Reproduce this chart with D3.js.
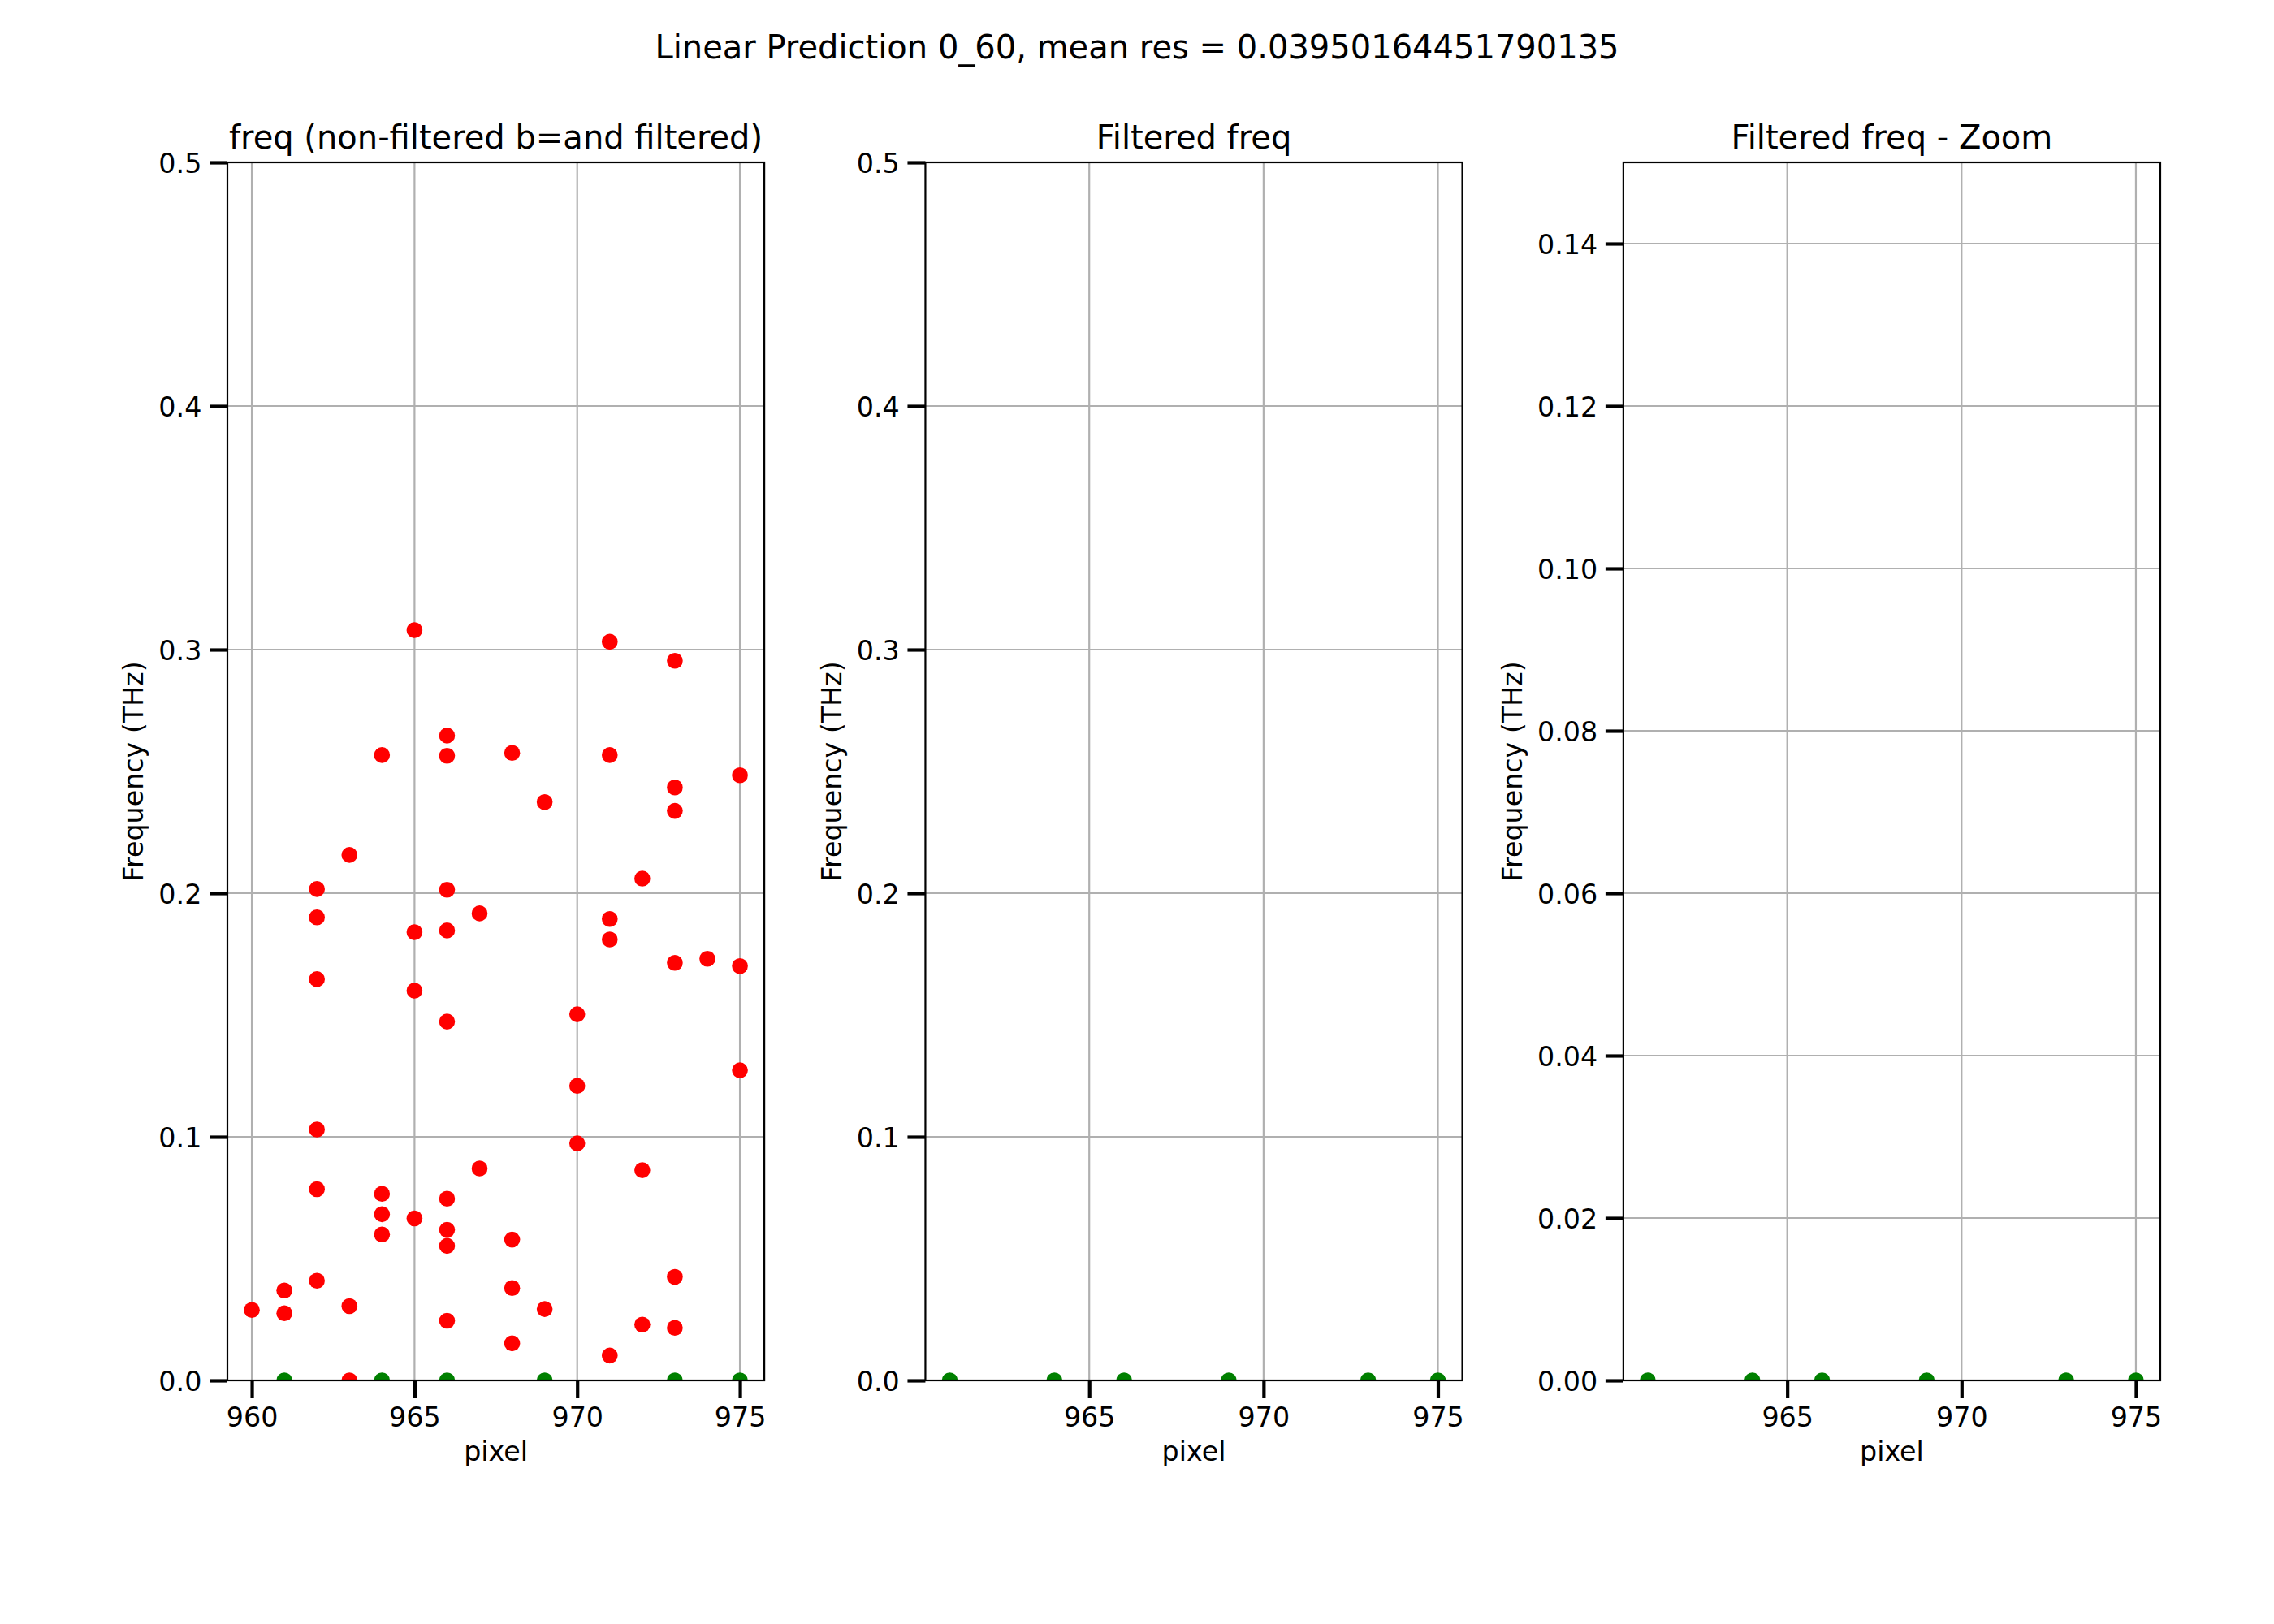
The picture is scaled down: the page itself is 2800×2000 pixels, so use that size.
<!DOCTYPE html>
<html>
<head>
<meta charset="utf-8">
<script src="https://cdn.jsdelivr.net/npm/d3@7"></script>
<style>
  html, body { margin: 0; padding: 0; background: #ffffff; }
  svg { display: block; font-family: "DejaVu Sans", sans-serif; }
</style>
</head>
<body>
<script>
// ---------------- data ----------------
const suptitle = "Linear Prediction 0_60, mean res = 0.03950164451790135";
const panelTitles = ["freq (non-filtered b=and filtered)", "Filtered freq", "Filtered freq - Zoom"];
const xLabel = "pixel";
const yLabel = "Frequency (THz)";

// non-filtered (red) points
const redPixels = [
  960,
  961, 961,
  962, 962, 962, 962, 962, 962,
  963, 963, 963,
  964, 964, 964, 964,
  965, 965, 965, 965,
  966, 966, 966, 966, 966, 966, 966, 966, 966,
  967, 967,
  968, 968, 968, 968,
  969, 969,
  970, 970, 970,
  971, 971, 971, 971, 971,
  972, 972, 972,
  973, 973, 973, 973, 973, 973,
  974,
  975, 975, 975
];
const redFreqs = [
  0.0289,
  0.0369, 0.0276,
  0.2017, 0.1901, 0.1647, 0.1030, 0.0785, 0.0409,
  0.2157, 0.0305, 0.0,
  0.2567, 0.0766, 0.0682, 0.0599,
  0.3080, 0.1840, 0.1600, 0.0665,
  0.2647, 0.2564, 0.2014, 0.1847, 0.1473, 0.0746, 0.0618, 0.0552, 0.0245,
  0.1917, 0.0870,
  0.2576, 0.0578, 0.0379, 0.0152,
  0.2374, 0.0293,
  0.1503, 0.1209, 0.0973,
  0.3032, 0.2567, 0.1894, 0.1810, 0.0102,
  0.2060, 0.0863, 0.0229,
  0.2954, 0.2434, 0.2338, 0.1714, 0.0425, 0.0216,
  0.1731,
  0.2484, 0.1701, 0.1273
];

// filtered (green) points
const greenPixels = [961, 964, 966, 969, 973, 975];
const greenFreqs  = [0.0, 0.0, 0.0, 0.0, 0.0, 0.0];

// axis ticks
const xTicks1 = [960, 965, 970, 975];
const xTicks23 = [965, 970, 975];
const yTicksFull = [0.0, 0.1, 0.2, 0.3, 0.4, 0.5];
const yTicksZoom = [0.00, 0.02, 0.04, 0.06, 0.08, 0.10, 0.12, 0.14];
const yMaxFull = 0.5;
const yMaxZoom = 0.15;

// ---------------- layout ----------------
const W = 2800, H = 2000;
const figLeft = 0.1 * W, figRight = 0.95 * W, figTop = 0.1 * H, figBottom = 0.85 * H;
const wspace = 0.3;
const panelW = (figRight - figLeft) / (3 + 2 * wspace);
const panelH = figBottom - figTop;

const svg = d3.select("body").append("svg")
  .attr("width", W).attr("height", H)
  .attr("viewBox", `0 0 ${W} ${H}`);

svg.append("rect").attr("width", W).attr("height", H).attr("fill", "#ffffff");

svg.append("text")
  .attr("x", W / 2).attr("y", 72)
  .attr("text-anchor", "middle")
  .attr("font-size", 40)
  .attr("fill", "#000")
  .text(suptitle);

const red = redPixels.map((p, i) => ({ x: p, y: redFreqs[i] }));
const green = greenPixels.map((p, i) => ({ x: p, y: greenFreqs[i] }));

function xDomain(pts) {
  const ext = d3.extent(pts, d => d.x);
  const m = (ext[1] - ext[0]) * 0.05;
  return [ext[0] - m, ext[1] + m];
}

const panels = [
  { title: panelTitles[0], series: [{ pts: red, color: "#ff0000" }, { pts: green, color: "#008000" }],
    xdom: xDomain(red.concat(green)), xticks: xTicks1, ymax: yMaxFull, yticks: yTicksFull, fmt: d3.format(".1f") },
  { title: panelTitles[1], series: [{ pts: green, color: "#008000" }],
    xdom: xDomain(green), xticks: xTicks23, ymax: yMaxFull, yticks: yTicksFull, fmt: d3.format(".1f") },
  { title: panelTitles[2], series: [{ pts: green, color: "#008000" }],
    xdom: xDomain(green), xticks: xTicks23, ymax: yMaxZoom, yticks: yTicksZoom, fmt: d3.format(".2f") }
];

const tickLen = 22, tickW = 4.2, tickPad = 9.7;
const fontTick = 33.3;
const gridColor = "#b0b0b0";
const markerR = 9.8;

panels.forEach((p, i) => {
  const x0 = figLeft + i * panelW * (1 + wspace);
  const g = svg.append("g").attr("transform", `translate(${x0},${figTop})`);
  const x = d3.scaleLinear().domain(p.xdom).range([0, panelW]);
  const y = d3.scaleLinear().domain([0, p.ymax]).range([panelH, 0]);

  const clipId = "clip" + i;
  g.append("clipPath").attr("id", clipId)
    .append("rect").attr("width", panelW).attr("height", panelH);

  // grid
  const grid = g.append("g");
  grid.selectAll("line.gx").data(p.xticks).join("line")
    .attr("x1", d => x(d)).attr("x2", d => x(d))
    .attr("y1", 0).attr("y2", panelH)
    .attr("stroke", gridColor).attr("stroke-width", 2.2);
  grid.selectAll("line.gy").data(p.yticks).join("line")
    .attr("class", "gy")
    .attr("x1", 0).attr("x2", panelW)
    .attr("y1", d => y(d)).attr("y2", d => y(d))
    .attr("stroke", gridColor).attr("stroke-width", 2.2);

  // points
  const pg = g.append("g").attr("clip-path", `url(#${clipId})`);
  p.series.forEach(s => {
    pg.append("g").selectAll("circle").data(s.pts).join("circle")
      .attr("cx", d => x(d.x)).attr("cy", d => y(d.y))
      .attr("r", markerR).attr("fill", s.color);
  });

  // axes (d3 axes, styled like matplotlib)
  const xAxis = d3.axisBottom(x).tickValues(p.xticks).tickSize(tickLen).tickPadding(tickPad).tickFormat(d3.format("d"));
  const yAxis = d3.axisLeft(y).tickValues(p.yticks).tickSize(tickLen).tickPadding(tickPad).tickFormat(p.fmt);

  const gx = g.append("g").attr("transform", `translate(0,${panelH})`).call(xAxis);
  const gy = g.append("g").call(yAxis);
  [gx, gy].forEach(a => {
    a.select(".domain").remove();
    a.selectAll(".tick line").attr("stroke", "#000").attr("stroke-width", tickW);
    a.selectAll(".tick text").attr("font-size", fontTick).attr("fill", "#000")
      .attr("font-family", "DejaVu Sans, sans-serif");
  });
  gx.selectAll(".tick text").attr("dy", null).attr("y", 57 - 0).attr("dominant-baseline", null);
  gy.selectAll(".tick text").attr("dy", "0.36em");

  // spines
  g.append("rect").attr("width", panelW).attr("height", panelH)
    .attr("fill", "none").attr("stroke", "#000").attr("stroke-width", 2.2);

  // title
  g.append("text").attr("x", panelW / 2).attr("y", -16.7)
    .attr("text-anchor", "middle").attr("font-size", 40).attr("fill", "#000")
    .text(p.title);

  // x label
  g.append("text").attr("x", panelW / 2).attr("y", panelH + 99)
    .attr("text-anchor", "middle").attr("font-size", fontTick).attr("fill", "#000")
    .text(xLabel);

  // y label: placed left of the widest tick label
  const maxLabelW = d3.max(gy.selectAll(".tick text").nodes(), n => n.getBBox().width);
  const labelRight = -(tickLen + tickPad + maxLabelW + 11);
  const baseX = labelRight - 7.9;
  g.append("text")
    .attr("transform", `translate(${baseX},${panelH / 2}) rotate(-90)`)
    .attr("text-anchor", "middle").attr("font-size", fontTick).attr("fill", "#000")
    .text(yLabel);
});
</script>
</body>
</html>
